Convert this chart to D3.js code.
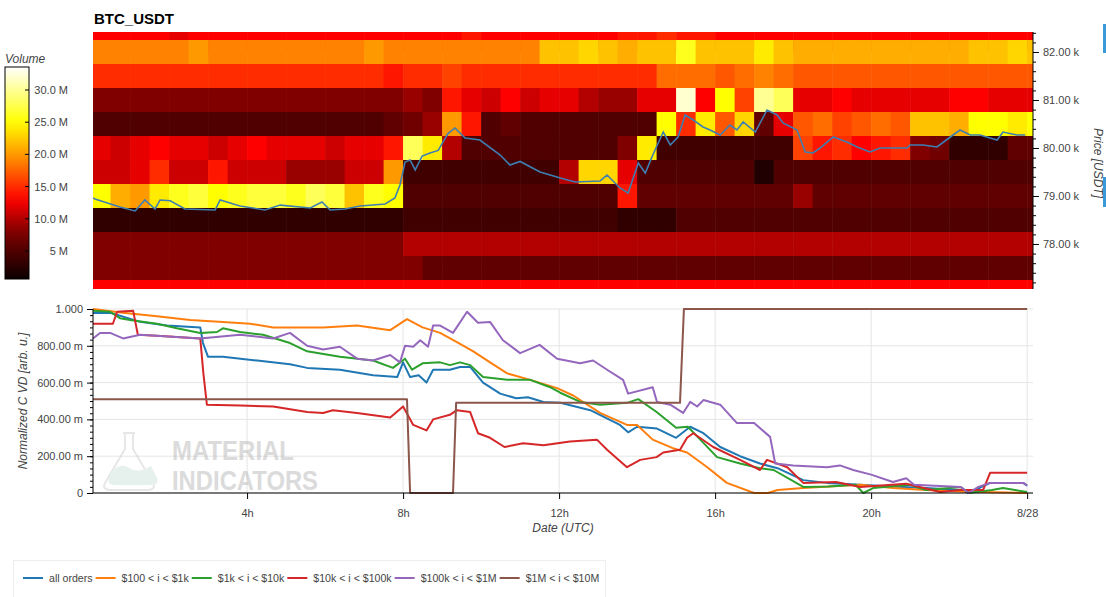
<!DOCTYPE html>
<html lang="en">
<head>
<meta charset="UTF-8">
<title>BTC_USDT</title>
<script src="https://d3js.org/d3.v7.min.js"></script>
<style>
  body { margin: 0; background: #fff; }
  svg text { font-family: "Liberation Sans", Arial, sans-serif; }
</style>
</head>
<body>
<svg id="chart" width="1106" height="597"></svg>
<script>
// ---- heatmap: volume (M USDT) per price bin (rows, top to bottom) and half-hour column
const binCenters = [82250, 82000, 81500, 81000, 80500, 80000, 79500, 79000, 78500, 78000, 77500, 77000];
const colHours = d3.range(0, 49).map(i => i * 0.5);
const volRows = [
  [13,13,13,13,12,13,13,13,13,13,13,13,13,13,13,13,13,13,13,14,13,13,13,13,13,13,13,14,14,15,14,14,13,13,13,13,13,13,13,13,13,13,13,13,13,13,13,13,13],
  [19,19,19,19,19,20,19,19,19,19,19,19,19,19,20,19,19,19,19,19,19,19,19,22,22,23,22,21,22,22,26,22,22,22,24,22,21,21,21,21,21,21,21,21,21,22,22,23,22],
  [15,15,15,15,15,15,15,15,15,15,15,15,15,15,15,14,15,15,16,15,15,15,15,15,15,15,15,15,15,18,18,18,17,18,19,18,17,17,17,17,17,17,17,17,17,17,17,17,17],
  [8,8,8,8,8,8,8,8,8,8,8,8,8,8,8,8,9,8,14,12,11,13,11,12,12,10,9,9,12,12,32,13,25,16,30,28,12,12,13,12,12,12,12,12,13,13,12,12,12],
  [5,5,5,5,5,5,5,5,5,5,5,5,5,5,5,6,7,9,20,14,5,6,5,5,5,5,5,5,5,25,15,24,17,23,6,12,17,18,16,17,18,17,22,22,21,25,25,24,25],
  [12,11,12,13,12,12,11,12,13,12,12,12,11,12,12,14,28,24,10,5,5,5,5,5,5,5,5,8,24,4,4,4,4,4,4,4,16,14,15,13,14,15,8,7,3,3,3,6,6],
  [11,11,12,15,11,11,14,11,11,11,9,9,9,11,11,20,4,4,4,4,4,4,4,4,10,23,23,12,5,5,5,5,5,5,2,5,5,5,5,5,5,5,5,5,5,5,5,5,5],
  [25,21,20,24,26,27,25,26,27,27,26,28,27,22,26,25,5,5,5,5,5,5,5,5,5,5,5,14,6,6,6,6,6,6,6,6,9,6,6,6,6,6,6,6,6,6,6,6,6],
  [3,3,3,3,3,3,3,3,3,3,3,3,3,3,3,3,4,4,4,4,4,4,4,4,4,4,4,3,3,3,5,5,5,5,5,5,5,5,5,5,5,5,5,5,5,5,5,5,5],
  [8,8,8,8,8,8,8,8,8,8,8,8,8,8,8,8,10,10,10,10,10,10,10,10,10,10,10,10,10,10,10,10,10,10,10,10,10,10,10,10,10,10,10,10,10,10,10,10,10],
  [8,8,8,8,8,8,8,8,8,8,8,8,8,8,8,8,8,6,6,6,6,6,6,6,6,6,6,6,6,6,6,6,6,6,6,6,6,6,6,6,6,6,6,6,6,6,6,6,6],
  [13,13,13,13,13,13,13,13,13,13,13,13,13,13,13,13,13,13,13,13,13,13,13,13,13,13,13,13,13,13,13,13,13,13,13,13,13,13,13,13,13,13,13,13,13,13,13,13,13]
];

// ---- price line (hours, USDT)
const priceHours = [0.05,0.10,0.74,1.13,1.38,1.64,1.77,2.03,2.41,3.18,3.31,3.82,4.46,4.85,5.62,5.92,6.13,6.51,6.90,7.54,7.79,7.92,8.05,8.18,8.31,8.49,8.69,8.90,9.15,9.33,9.59,9.97,10.49,10.74,11.0,11.51,12.03,12.41,13.05,13.23,13.56,13.77,14.03,14.21,14.38,14.67,14.85,15.05,15.23,15.44,15.69,15.87,16.13,16.38,16.56,16.72,17.03,17.33,17.59,17.74,18.10,18.31,18.51,18.69,19.03,19.38,19.64,19.97,20.23,20.56,20.92,21.0,21.33,21.69,22.03,22.28,22.54,22.79,23.23,23.38,23.74,23.95];
const priceVals = [78960,78938,78771,78688,78917,78729,78917,78900,78729,78708,78917,78792,78708,78810,78750,78875,78708,78729,78792,78833,78958,79229,79708,79750,79542,79833,79896,79950,80300,80417,80208,80167,79854,79646,79720,79500,79375,79292,79313,79438,79167,79063,79688,79479,79813,80333,80063,80229,80688,80583,80438,80375,80271,80479,80375,80542,80333,80792,80688,80521,80375,79917,79896,80000,80229,80125,80021,79917,80000,80000,80000,80063,80063,80021,80229,80375,80271,80271,80167,80333,80271,80271];

// ---- normalized CVD series (hours, value)
const seriesNames = ["all orders", "$100 < i < $1k", "$1k < i < $10k", "$10k < i < $100k", "$100k < i < $1M", "$1M < i < $10M"];
const seriesColors = ["#1f77b4", "#ff7f0e", "#2ca02c", "#d62728", "#9467bd", "#8c564b"];
const allH = [0.05,0.49,1.26,1.95,2.8,2.87,3.0,3.38,4.26,5.1,5.54,6.38,7.23,7.85,8.0,8.18,8.4,8.6,8.77,9.2,9.46,9.72,10.05,10.49,10.9,11.2,11.6,12.03,12.8,13.56,13.77,14.0,14.51,15.0,15.36,15.7,16.13,16.64,17.15,17.6,18.26,18.87,19.72,20.56,21.4,22.3,22.5,23.05,23.9,24.0];
const allV = [0.978,0.98,0.93,0.91,0.90,0.815,0.74,0.74,0.72,0.70,0.68,0.67,0.64,0.63,0.71,0.63,0.64,0.60,0.67,0.67,0.685,0.685,0.60,0.54,0.515,0.52,0.495,0.49,0.45,0.37,0.33,0.36,0.35,0.30,0.36,0.325,0.25,0.20,0.16,0.135,0.07,0.055,0.045,0.035,0.027,0.016,0.0,0.055,0.055,0.04];
const s100H = [0.05,0.82,1.69,2.54,3.38,4.08,4.67,5.95,6.82,7.67,8.1,8.5,8.95,9.38,9.8,10.23,10.67,11.26,11.95,12.36,13.05,13.74,14.0,14.4,14.9,15.28,15.8,16.3,17.0,17.35,17.6,18.26,19.72,20.56,21.4,22.3,24.0];
const s100V = [1.0,0.98,0.96,0.94,0.93,0.92,0.90,0.90,0.91,0.885,0.945,0.90,0.87,0.82,0.77,0.71,0.65,0.615,0.57,0.53,0.435,0.37,0.37,0.29,0.245,0.22,0.14,0.055,0.0,0.0,0.016,0.027,0.045,0.027,0.016,0.008,0.0];
const s1kH = [0.05,0.49,0.74,1.0,1.69,2.2,2.8,3.23,3.38,3.82,4.41,5.1,5.54,6.38,7.23,7.74,8.05,8.23,8.5,8.95,9.2,9.46,9.72,10.05,10.67,11.26,11.77,12.03,12.54,13.05,13.74,14.03,14.5,15.0,15.3,15.62,16.05,16.64,17.15,17.5,18.26,18.9,19.6,19.8,20.05,21.0,21.4,22.3,22.5,23.1,23.38,24.0];
const s1kV = [0.99,0.985,0.95,0.94,0.92,0.895,0.87,0.875,0.895,0.875,0.86,0.815,0.77,0.74,0.72,0.68,0.73,0.67,0.705,0.71,0.695,0.71,0.695,0.63,0.615,0.615,0.575,0.545,0.495,0.48,0.49,0.51,0.44,0.355,0.36,0.29,0.195,0.16,0.135,0.125,0.033,0.035,0.045,0.0,0.027,0.045,0.016,0.033,0.0,0.016,0.027,0.005];
const s10kH = [0.05,0.56,0.67,1.08,1.2,1.69,2.8,2.88,2.97,3.82,4.67,5.54,5.95,6.2,6.82,7.67,8.0,8.26,8.6,8.77,9.2,9.38,9.72,9.92,10.23,10.6,11.08,11.6,12.28,12.97,13.23,13.74,14.08,14.5,14.67,15.1,15.28,15.44,15.95,16.64,17.15,17.33,17.85,18.26,19.1,19.72,20.9,21.77,22.3,22.87,23.05,24.0];
const s10kV = [0.92,0.92,0.985,0.99,0.86,0.855,0.84,0.65,0.48,0.475,0.47,0.44,0.435,0.45,0.435,0.41,0.47,0.37,0.34,0.40,0.425,0.45,0.44,0.325,0.30,0.25,0.27,0.26,0.28,0.29,0.235,0.14,0.18,0.195,0.22,0.235,0.30,0.325,0.25,0.18,0.125,0.18,0.14,0.055,0.06,0.033,0.05,0.005,0.016,0.016,0.11,0.11];
const s100kH = [0.05,0.23,0.49,0.82,1.26,2.8,3.82,4.67,5.1,5.54,5.95,6.38,6.82,7.23,7.67,7.92,8.05,8.26,8.44,8.64,8.77,8.95,9.28,9.64,9.92,10.23,10.56,11.0,11.5,11.95,12.54,12.87,13.23,13.64,13.77,14.4,14.51,14.85,15.18,15.36,15.54,15.7,16.13,16.56,17.0,17.41,17.54,18.0,18.87,19.2,19.54,20.0,20.56,20.9,21.1,22.3,22.5,22.75,23.05,23.9,24.0];
const s100kV = [0.84,0.87,0.87,0.84,0.86,0.84,0.86,0.84,0.87,0.80,0.78,0.795,0.73,0.72,0.75,0.71,0.80,0.795,0.83,0.795,0.91,0.91,0.87,0.985,0.925,0.93,0.83,0.76,0.805,0.73,0.705,0.72,0.67,0.615,0.54,0.575,0.495,0.48,0.435,0.495,0.47,0.505,0.48,0.38,0.38,0.305,0.16,0.15,0.14,0.15,0.125,0.10,0.06,0.08,0.045,0.033,0.0,0.033,0.055,0.055,0.04];
const s1mH = [0.05,8.1,8.18,9.28,9.36,15.1,15.2,24.0];
const s1mV = [0.51,0.51,0.0,0.0,0.49,0.49,1.0,1.0];
const cvdH = [allH, s100H, s1kH, s10kH, s100kH, s1mH];
const cvdV = [allV, s100V, s1kV, s10kV, s100kV, s1mV];

const priceTicks = [78000, 79000, 80000, 81000, 82000];
const cvdTicks = [0, 0.2, 0.4, 0.6, 0.8, 1.0];
const cvdTickLabels = ["0", "200.00 m", "400.00 m", "600.00 m", "800.00 m", "1.000"];
const timeTicks = [4, 8, 12, 16, 20, 24];
const timeTickLabels = ["4h", "8h", "12h", "16h", "20h", "8/28"];
const volTicks = [5, 10, 15, 20, 25, 30];
const volTickLabels = ["5 M", "10.0 M", "15.0 M", "20.0 M", "25.0 M", "30.0 M"];

const svg = d3.select("#chart");
const x = d3.scaleLinear().domain([0.05, 24.15]).range([93, 1033]);
const yP = d3.scaleLinear().domain([77062, 82417]).range([289, 32]);
const yC = d3.scaleLinear().domain([0, 1]).range([493, 309]);
const color = d3.scaleLinear()
  .domain([0, 8, 13, 20, 25, 33.6])
  .range(["#000000", "#800000", "#ff0000", "#ff9900", "#ffff00", "#ffffff"])
  .clamp(true);

// title
svg.append("text").attr("x", 94).attr("y", 24).attr("font-size", 15).attr("font-weight", "bold").text("BTC_USDT");

// heatmap
svg.append("clipPath").attr("id", "hm").append("rect")
  .attr("x", 93).attr("y", 32).attr("width", 940).attr("height", 257);
const hm = svg.append("g").attr("clip-path", "url(#hm)");
volRows.forEach((row, r) => {
  row.forEach((v, c) => {
    const x0 = x(colHours[c]), x1 = x(colHours[c] + 0.5);
    const y0 = yP(binCenters[r] + 250), y1 = yP(binCenters[r] - 250);
    hm.append("rect").attr("x", x0).attr("y", y0)
      .attr("width", x1 - x0 + 0.5).attr("height", y1 - y0 + 0.3)
      .attr("fill", color(v));
  });
});
hm.append("path")
  .datum(priceHours.map((h, i) => [h, priceVals[i]]))
  .attr("fill", "none").attr("stroke", "#3d7fb2").attr("stroke-width", 1.6)
  .attr("d", d3.line().x(d => x(d[0])).y(d => yP(d[1])));

// price axis (right)
const pa = svg.append("g").attr("transform", "translate(1033,0)")
  .call(d3.axisRight(yP).tickValues(priceTicks).tickSize(6).tickPadding(4)
    .tickFormat(d => (d / 1000).toFixed(2) + " k"));
pa.select(".domain").attr("stroke", "#000").attr("d", "M0,32V289");
pa.selectAll("text").attr("font-size", 11).attr("fill", "#444");
svg.append("g").attr("transform", "translate(1033,0)")
  .call(d3.axisRight(yP).tickValues(d3.range(77200, 82401, 200).filter(v => v % 1000 !== 0)).tickSize(3).tickFormat(""))
  .select(".domain").remove();
svg.append("text").attr("transform", "translate(1094,163) rotate(90)")
  .attr("text-anchor", "middle").attr("font-size", 12).attr("font-style", "italic").attr("fill", "#444")
  .text("Price [USDT]");
svg.append("rect").attr("x", 1103).attr("y", 24).attr("width", 3).attr("height", 29).attr("fill", "#3a9ad9");
svg.append("rect").attr("x", 1103).attr("y", 177).attr("width", 3).attr("height", 30).attr("fill", "#3a9ad9");

// color bar
const yV = d3.scaleLinear().domain([0.65, 33.57]).range([279, 67]);
const grad = svg.append("defs").append("linearGradient").attr("id", "cb")
  .attr("x1", 0).attr("y1", 1).attr("x2", 0).attr("y2", 0);
d3.range(0, 1.0001, 0.05).forEach(t => {
  grad.append("stop").attr("offset", t).attr("stop-color", color(0.65 + t * (33.57 - 0.65)));
});
svg.append("rect").attr("x", 5).attr("y", 67).attr("width", 24).attr("height", 212)
  .attr("fill", "url(#cb)").attr("stroke", "#000").attr("stroke-width", 1);
svg.append("text").attr("x", 5).attr("y", 63).attr("font-size", 12).attr("font-style", "italic").attr("fill", "#444").text("Volume");
volTicks.forEach((v, i) => {
  svg.append("line").attr("x1", 25).attr("x2", 29).attr("y1", yV(v)).attr("y2", yV(v)).attr("stroke", "#000");
  svg.append("text").attr("x", 68).attr("y", yV(v) + 4).attr("text-anchor", "end")
    .attr("font-size", 11).attr("fill", "#444").text(volTickLabels[i]);
});

// CVD chart: grid
const g = svg.append("g");
cvdTicks.forEach(v => g.append("line").attr("x1", 93).attr("x2", 1033).attr("y1", yC(v)).attr("y2", yC(v)).attr("stroke", "#e5e5e5"));
timeTicks.forEach(h => g.append("line").attr("x1", x(h)).attr("x2", x(h)).attr("y1", 309).attr("y2", 493).attr("stroke", "#e5e5e5"));

// watermark
const wm = svg.append("g").attr("opacity", 0.5);
wm.append("path").attr("d", "M123,433 h12 M125,433 v16 l-20,34 q-3,6 4,7 h40 q7,-1 4,-7 l-20,-34 v-16")
  .attr("fill", "none").attr("stroke", "#d0d0d0").attr("stroke-width", 2);
wm.append("path").attr("d", "M111,472 q10,-10 18,-4 q10,6 22,-2 l6,12 q2,6 -4,7 h-40 q-6,-1 -4,-7 z").attr("fill", "#cfe3da");
wm.append("text").attr("x", 172).attr("y", 460).attr("font-size", 28).attr("font-weight", "bold")
  .attr("textLength", 122).attr("lengthAdjust", "spacingAndGlyphs").attr("fill", "#b8b8b8").text("MATERIAL");
wm.append("text").attr("x", 172).attr("y", 490).attr("font-size", 28).attr("font-weight", "bold")
  .attr("textLength", 146).attr("lengthAdjust", "spacingAndGlyphs").attr("fill", "#b8b8b8").text("INDICATORS");

// lines
const line = d3.line().x(d => x(d[0])).y(d => yC(d[1]));
cvdH.forEach((hs, i) => {
  svg.append("path").datum(hs.map((h, j) => [h, cvdV[i][j]]))
    .attr("fill", "none").attr("stroke", seriesColors[i]).attr("stroke-width", 2)
    .attr("stroke-linejoin", "round").attr("d", line);
});

// CVD axes
const ya = svg.append("g").attr("transform", "translate(93,0)")
  .call(d3.axisLeft(yC).tickValues(cvdTicks).tickSize(6).tickPadding(4).tickFormat((d, i) => cvdTickLabels[i]));
ya.selectAll("text").attr("font-size", 11).attr("fill", "#444");
ya.select(".domain").attr("d", "M0,309V493");
svg.append("g").attr("transform", "translate(93,0)")
  .call(d3.axisLeft(yC).tickValues(d3.range(0, 1.0001, 0.2 / 6)).tickSize(3).tickFormat(""))
  .select(".domain").remove();
const xa = svg.append("g").attr("transform", "translate(0,493)")
  .call(d3.axisBottom(x).tickValues(timeTicks).tickSize(6).tickPadding(10).tickFormat((d, i) => timeTickLabels[i]));
xa.selectAll("text").attr("font-size", 11).attr("fill", "#444");
xa.select(".domain").attr("d", "M93,0H1033");
svg.append("text").attr("transform", "translate(27,401) rotate(-90)").attr("text-anchor", "middle")
  .attr("font-size", 12).attr("font-style", "italic").attr("fill", "#444").text("Normalized C VD [arb. u.]");
svg.append("text").attr("x", 563).attr("y", 532).attr("text-anchor", "middle")
  .attr("font-size", 12).attr("font-style", "italic").attr("fill", "#444").text("Date (UTC)");

// legend
svg.append("rect").attr("x", 13.5).attr("y", 560.5).attr("width", 592).attr("height", 40)
  .attr("fill", "#fff").attr("stroke", "#eee");
let lx = 23;
seriesNames.forEach((n, i) => {
  svg.append("line").attr("x1", lx).attr("x2", lx + 20).attr("y1", 578).attr("y2", 578)
    .attr("stroke", seriesColors[i]).attr("stroke-width", 2);
  const t = svg.append("text").attr("x", lx + 26).attr("y", 582).attr("font-size", 10.6).attr("fill", "#444").text(n);
  lx += 26 + t.node().getComputedTextLength() + 3;
});
</script>
</body>
</html>
